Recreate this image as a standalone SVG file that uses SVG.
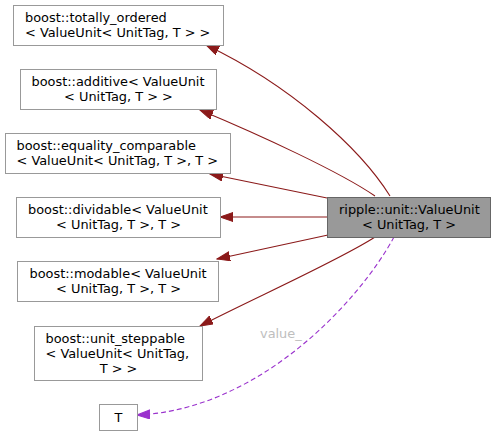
<svg xmlns="http://www.w3.org/2000/svg" width="496" height="435" viewBox="0 0 496 435">
<style>
.n rect{fill:#fff;stroke:#999;stroke-width:1}
.n.main rect{fill:#999;stroke:#666}
text{font-family:"DejaVu Sans",sans-serif;font-size:12.9px;fill:#000}
.m{text-anchor:middle}
.e{fill:none;stroke:#8b1a1a;stroke-width:1.1}
.d{fill:none;stroke:#9a32cd;stroke-width:1.1;stroke-dasharray:5,3}
.lbl{fill:#bebebe}
</style>
<defs>
<marker id="ar" markerUnits="userSpaceOnUse" markerWidth="14" markerHeight="10" refX="13" refY="4.5" orient="auto">
<path d="M0,0 L13,4.5 L0,9 z" fill="#8b1a1a" stroke="#8b1a1a"/>
</marker>
<marker id="ap" markerUnits="userSpaceOnUse" markerWidth="14" markerHeight="10" refX="13" refY="4.5" orient="auto">
<path d="M0,0 L13,4.5 L0,9 z" fill="#9a32cd" stroke="#9a32cd"/>
</marker>
</defs>
<g id="edges">
<path class="e" d="M390,196 C360,148 290,85 206,45" marker-end="url(#ar)"/>
<path class="e" d="M375,196 C340,172 260,135 200,110" marker-end="url(#ar)"/>
<path class="e" d="M327,198 L210,174" marker-end="url(#ar)"/>
<path class="e" d="M327,217 L220,217" marker-end="url(#ar)"/>
<path class="e" d="M328,235 L217,259" marker-end="url(#ar)"/>
<path class="e" d="M375,237 C340,260 250,300 200,326" marker-end="url(#ar)"/>
<path class="d" d="M394,237 C360,300 260,410 137,415" marker-end="url(#ap)"/>
<text class="lbl" x="260" y="338">value_</text>
</g>
<g id="node_totally_ordered" class="n">
<rect x="13.5" y="5.5" width="210" height="40"/>
<text x="25" y="21.5">boost::totally_ordered</text>
<text x="25" y="36.5">&lt; ValueUnit&lt; UnitTag, T &gt; &gt;</text>
</g>
<g id="node_additive" class="n">
<rect x="20.5" y="69.5" width="196" height="40"/>
<text x="31.5" y="85.5">boost::additive&lt; ValueUnit</text>
<text class="m" x="118.5" y="100.5">&lt; UnitTag, T &gt; &gt;</text>
</g>
<g id="node_equality_comparable" class="n">
<rect x="5.5" y="133.5" width="225" height="40"/>
<text x="16.5" y="149.5">boost::equality_comparable</text>
<text x="16.5" y="164.5">&lt; ValueUnit&lt; UnitTag, T &gt;, T &gt;</text>
</g>
<g id="node_dividable" class="n">
<rect x="16.5" y="197.5" width="204" height="40"/>
<text x="28" y="213.5">boost::dividable&lt; ValueUnit</text>
<text class="m" x="118.5" y="228.5">&lt; UnitTag, T &gt;, T &gt;</text>
</g>
<g id="node_modable" class="n">
<rect x="17.5" y="261.5" width="201" height="40"/>
<text x="29.5" y="277.5">boost::modable&lt; ValueUnit</text>
<text class="m" x="118.5" y="292.5">&lt; UnitTag, T &gt;, T &gt;</text>
</g>
<g id="node_unit_steppable" class="n">
<rect x="34.5" y="326.5" width="168" height="54"/>
<text x="45.5" y="342.5">boost::unit_steppable</text>
<text x="45.5" y="357.5">&lt; ValueUnit&lt; UnitTag,</text>
<text class="m" x="118.5" y="372.5">T &gt; &gt;</text>
</g>
<g id="node_T" class="n">
<rect x="99.5" y="404.5" width="38" height="26"/>
<text class="m" x="118.5" y="421.5">T</text>
</g>
<g id="node_ValueUnit" class="n main">
<rect x="327.5" y="197.5" width="163" height="40"/>
<text x="339" y="213.5">ripple::unit::ValueUnit</text>
<text class="m" x="409" y="228.5">&lt; UnitTag, T &gt;</text>
</g>
</svg>
